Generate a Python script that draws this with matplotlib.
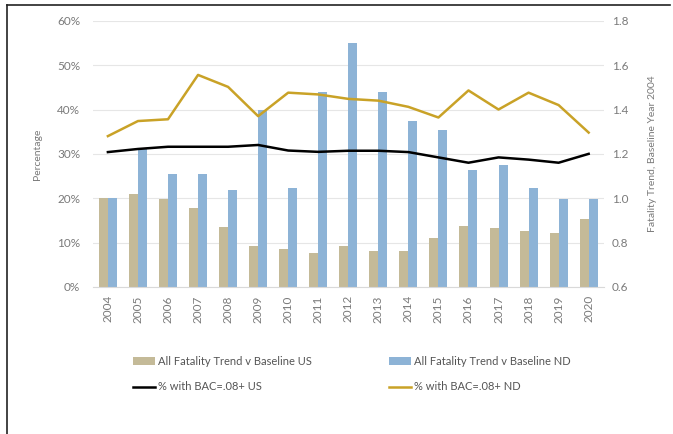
import matplotlib
matplotlib.use('Agg')
import matplotlib.pyplot as plt
import numpy as np
from matplotlib.lines import Line2D

plt.rcParams['font.family'] = ['Lato', 'DejaVu Sans']

years = ['2004', '2005', '2006', '2007', '2008', '2009', '2010', '2011', '2012',
         '2013', '2014', '2015', '2016', '2017', '2018', '2019', '2020']

# fatality trend vs 2004 baseline (right axis)
trend_us = [1.00, 1.017, 0.997, 0.958, 0.868, 0.786, 0.770, 0.755, 0.783,
            0.762, 0.762, 0.820, 0.874, 0.866, 0.853, 0.842, 0.907]
trend_nd = [1.00, 1.220, 1.108, 1.108, 1.038, 1.400, 1.048, 1.478, 1.698,
            1.478, 1.348, 1.308, 1.127, 1.148, 1.047, 0.997, 0.997]

# % with BAC .08+ (left axis)
bac_us = [30.4, 31.1, 31.6, 31.6, 31.6, 32.0, 30.75, 30.45, 30.7,
          30.7, 30.4, 29.2, 28.0, 29.2, 28.7, 28.0, 30.0]
bac_nd = [34.0, 37.4, 37.8, 47.8, 45.1, 38.5, 43.8, 43.4, 42.4,
          42.0, 40.6, 38.2, 44.3, 40.0, 43.8, 41.0, 34.8]

tan = '#C4BA98'
blue = '#8DB3D6'
gold = '#C9A227'
txt = '#7A7A7A'

fig = plt.figure(figsize=(6.73, 4.34), dpi=100)
ax = fig.add_axes([0.138, 0.339, 0.759, 0.613])

x = np.arange(len(years))
w = 0.3
b1 = ax.bar(x - w / 2, np.array(trend_us) - 0.6, w, bottom=0.6, color=tan, zorder=2)
b2 = ax.bar(x + w / 2, np.array(trend_nd) - 0.6, w, bottom=0.6, color=blue, zorder=2)
ax.set_ylim(0.6, 1.8)
ax.set_yticks(np.arange(0.6, 1.81, 0.2))
ax.set_yticklabels(['%.1f' % v for v in np.arange(0.6, 1.81, 0.2)])
ax.grid(axis='y', color='#E6E6E6', linewidth=0.8, zorder=0)
ax.set_axisbelow(True)

ax2 = ax.twinx()
l1, = ax2.plot(x, bac_us, color='black', linewidth=1.8)
l2, = ax2.plot(x, bac_nd, color=gold, linewidth=1.8)
ax2.set_ylim(0, 60)
ax2.set_yticks(range(0, 61, 10))
ax2.set_yticklabels(['%d%%' % v for v in range(0, 61, 10)])

# swap sides: bars scale on the right, percentages on the left
ax.yaxis.tick_right()
ax.yaxis.set_label_position('right')
ax2.yaxis.tick_left()
ax2.yaxis.set_label_position('left')
ax.set_ylabel('Fatality Trend, Baseline Year 2004', color=txt, fontsize=7.5, labelpad=14)
ax2.set_ylabel('Percentage', color=txt, fontsize=7.5, labelpad=11)

ax.set_xlim(-0.5, len(years) - 0.5)
ax.set_xticks(x)
ax.set_xticklabels(years, rotation=90)

for a in (ax, ax2):
    for s in a.spines.values():
        s.set_visible(False)
    a.tick_params(length=0, colors=txt, labelsize=8.5, pad=6)
ax2.tick_params(axis='y', pad=9)
ax.spines['bottom'].set_visible(True)
ax.spines['bottom'].set_color('#D9D9D9')

handles = [b1, l1, b2, l2]
labels = ['All Fatality Trend v Baseline US', '% with BAC=.08+ US',
          'All Fatality Trend v Baseline ND', '% with BAC=.08+ ND']
leg = fig.legend(handles, labels, ncol=2, loc='upper left', bbox_to_anchor=(0.183, 0.203),
                 frameon=False, fontsize=8, handlelength=2.0, handleheight=0.6,
                 handletextpad=0.2, columnspacing=7.0, labelspacing=1.3)
for t in leg.get_texts():
    t.set_color('#555555')

# border lines (top and left only)
fig.add_artist(Line2D([0.010, 0.996], [0.988, 0.988], color='#222222', linewidth=1.2))
fig.add_artist(Line2D([0.010, 0.010], [0.0, 0.988], color='#222222', linewidth=1.2))

fig.savefig('out.png', dpi=100, facecolor='white')
